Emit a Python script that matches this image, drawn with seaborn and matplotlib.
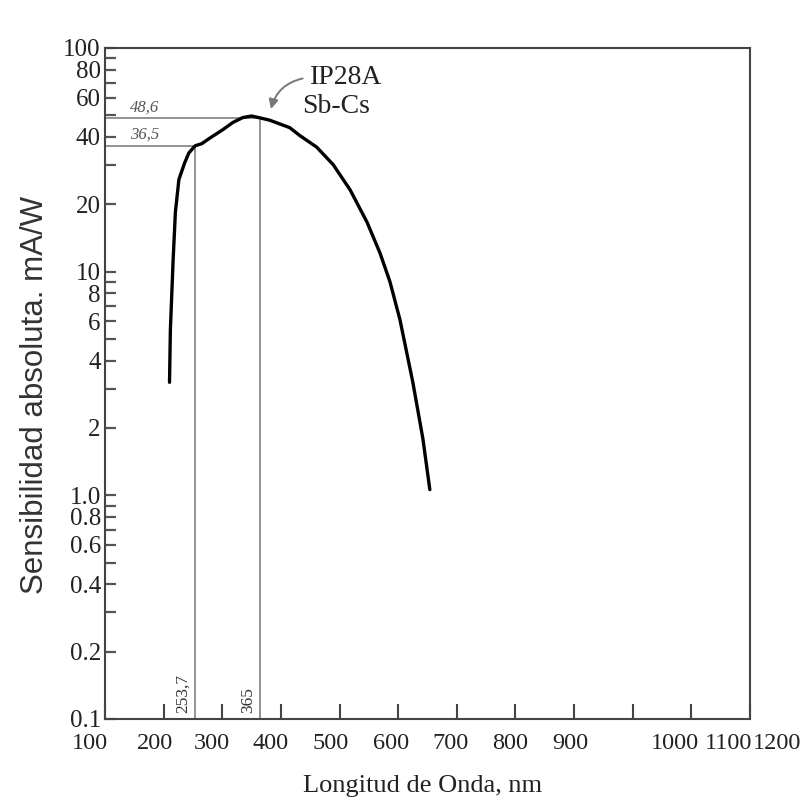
import matplotlib
matplotlib.use("Agg")
import matplotlib.pyplot as plt
from matplotlib.ticker import FixedLocator, FixedFormatter, NullFormatter
from matplotlib.transforms import ScaledTranslation
import seaborn as sns
import pandas as pd

# Spectral response of the IP28A (Sb-Cs) photomultiplier
wavelength_nm = [210, 211.5, 216, 220, 226, 236, 243, 253.7, 265, 280, 301, 318,
                 335, 350, 365, 381, 415, 432, 461, 489, 518, 547, 569, 586,
                 603, 625, 642, 654]
sensitivity_mA_W = [3.2, 5.5, 11.0, 18.4, 25.8, 30.7, 33.9, 36.5, 37.3, 39.7, 43.1, 46.4,
                    48.8, 49.6, 48.6, 47.5, 44.0, 40.6, 36.0, 30.1, 23.2, 16.6, 12.1, 9.0,
                    6.1, 3.2, 1.8, 1.06]

# Marked reference points (wavelength, sensitivity) and their printed labels
ref_wavelengths = [253.7, 365]
ref_values = [36.5, 48.6]
ref_wl_labels = ["253,7", "365"]
ref_val_labels = ["36,5", "48,6"]

tube_labels = ["IP28A", "Sb-Cs"]

x_ticks = [100, 200, 300, 400, 500, 600, 700, 800, 900, 1000, 1100, 1200]
x_tick_labels = ["100", "200", "300", "400", "500", "600", "700", "800", "900",
                 "1000", "1100", "1200"]
y_ticks = [100, 80, 60, 40, 20, 10, 8, 6, 4, 2, 1.0, 0.8, 0.6, 0.4, 0.2, 0.1]
y_tick_labels = ["100", "80", "60", "40", "20", "10", "8", "6", "4", "2",
                 "1.0", "0.8", "0.6", "0.4", "0.2", "0.1"]
y_minor_ticks = [90, 70, 50, 30, 9, 7, 5, 3, 0.9, 0.7, 0.5, 0.3]

df = pd.DataFrame({"wl": wavelength_nm, "s": sensitivity_mA_W})

sns.set_style("white")
plt.rcParams["font.family"] = ["Liberation Serif", "DejaVu Serif"]

DPI = 100
fig = plt.figure(figsize=(8.01, 7.98), dpi=DPI)
ax = fig.add_axes([0.1311, 0.0990, 0.8052, 0.8410])

sns.lineplot(data=df, x="wl", y="s", ax=ax, color="black", linewidth=2.4,
             sort=False, estimator=None)
for line in ax.lines:
    line.set_solid_capstyle("round")
    line.set_solid_joinstyle("round")

ax.set_yscale("log")
ax.set_xlim(100, 1200)
ax.set_ylim(0.1, 100)

# Guide lines to the marked points
ref_color = "#808080"
for wl, val in zip(ref_wavelengths, ref_values):
    ax.plot([100, wl], [val, val], color=ref_color, lw=1.2, zorder=1)
    ax.plot([wl, wl], [0.1, val], color=ref_color, lw=1.2, zorder=1)

for wl, lab in zip(ref_wavelengths, ref_wl_labels):
    ax.annotate(lab, xy=(wl, 0.1), xytext=(-3, 4), textcoords="offset points",
                rotation=90, ha="right", va="bottom", fontsize=12.5, color="#333333")

for val, lab in zip(ref_values, ref_val_labels):
    ax.annotate(lab, xy=(100, val), xytext=(18, 2), textcoords="offset points",
                ha="left", va="bottom", fontsize=12, color="#555555", style="italic")

# Tube designation with pointer
ax.text(449, 74, tube_labels[0], ha="left", va="center", fontsize=20, color="#222222")
ax.text(437, 54.5, tube_labels[1], ha="left", va="center", fontsize=20, color="#222222")
ax.annotate("", xy=(383, 53.3), xytext=(437, 73),
            arrowprops=dict(arrowstyle="-|>", color="#777777", lw=1.4,
                            connectionstyle="arc3,rad=0.3", shrinkA=0, shrinkB=0,
                            mutation_scale=14))

# Axes frame
for sp in ax.spines.values():
    sp.set_color("#444444")
    sp.set_linewidth(1.5)

ax.xaxis.set_major_locator(FixedLocator(x_ticks))
ax.xaxis.set_major_formatter(FixedFormatter(x_tick_labels))
ax.yaxis.set_major_locator(FixedLocator(y_ticks))
ax.yaxis.set_major_formatter(FixedFormatter(y_tick_labels))
ax.yaxis.set_minor_locator(FixedLocator(y_minor_ticks))
ax.yaxis.set_minor_formatter(NullFormatter())
ax.xaxis.set_minor_locator(FixedLocator([]))

ax.tick_params(axis="x", which="major", direction="in", length=11, width=1.5,
               color="#444444", pad=10, labelsize=17.5, labelcolor="#222222",
               bottom=True, top=False)
ax.tick_params(axis="y", which="both", direction="in", length=8, width=1.6,
               color="#555555", pad=3, labelsize=18, labelcolor="#222222",
               left=True, right=False)

# Hand-set label spacing along the wavelength axis (pixels)
x_label_nudge_px = [-15, -9, -10, -10, -9, -7, -6, -5, -4, 42, 37, 27]
for lbl, dx in zip(ax.get_xticklabels(), x_label_nudge_px):
    lbl.set_transform(lbl.get_transform() + ScaledTranslation(dx / DPI, 0, fig.dpi_scale_trans))

ax.set_xlabel("Longitud de Onda, nm", fontsize=19, color="#222222")
ax.xaxis.set_label_coords(0.493, -0.083)
ax.set_ylabel("Sensibilidad absoluta. mA/W", fontsize=22.5, color="#333333",
              family=["Liberation Sans Narrow", "Liberation Sans", "DejaVu Sans"])
ax.yaxis.set_label_coords(-0.085, 0.483)

ax.set_facecolor("white")
fig.patch.set_facecolor("white")
fig.savefig("out.png", dpi=DPI, facecolor="white")
